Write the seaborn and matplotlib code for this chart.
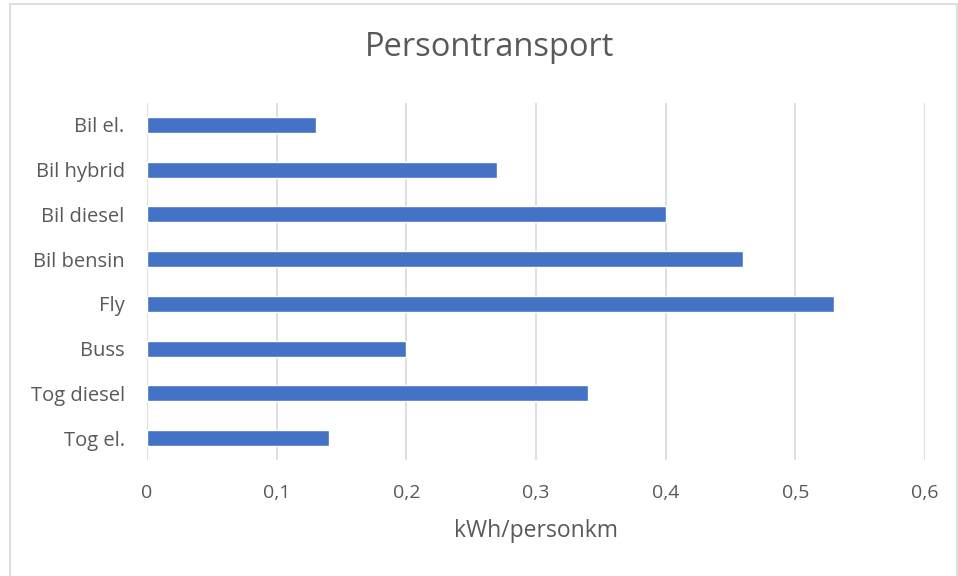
import matplotlib
matplotlib.use("Agg")
import matplotlib.pyplot as plt
import seaborn as sns
import pandas as pd
from matplotlib.patches import Rectangle

# data
categories = ['Bil el.', 'Bil hybrid', 'Bil diesel', 'Bil bensin', 'Fly', 'Buss', 'Tog diesel', 'Tog el.']
values = [0.13, 0.27, 0.40, 0.46, 0.53, 0.20, 0.34, 0.14]
x_ticks = [0, 0.1, 0.2, 0.3, 0.4, 0.5, 0.6]
x_tick_labels = ['0', '0,1', '0,2', '0,3', '0,4', '0,5', '0,6']

df = pd.DataFrame({'kategori': categories, 'verdi': values})

sns.set_style('white')
plt.rcParams['font.family'] = ['Open Sans', 'DejaVu Sans']
text_color = '#595959'

fig = plt.figure(figsize=(9.58, 5.76), dpi=100)
ax = fig.add_axes([0.1534, 0.2007, 0.8122, 0.6212])

sns.barplot(data=df, x='verdi', y='kategori', orient='h', color='#4472C4',
            width=0.36, saturation=1, ax=ax, zorder=3)

ax.set_xlim(0, 0.6)
ax.set_xticks(x_ticks)
ax.set_xticklabels(x_tick_labels, color=text_color, fontsize=14)
ax.tick_params(axis='y', labelsize=14.5, labelcolor=text_color, length=0, pad=16)
ax.tick_params(axis='x', length=0, pad=17)
ax.grid(axis='x', color='#D9D9D9', linewidth=1.2, zorder=0)
for s in ax.spines.values():
    s.set_visible(False)

ax.set_ylabel('')
ax.set_xlabel('kWh/personkm', color=text_color, fontsize=16.5, labelpad=12)
fig.text(0.5115, 0.9167, 'Persontransport', ha='center', va='center',
         fontsize=23.5, color=text_color)

# ramme rundt figuren
fig.patches.append(Rectangle((0.0105, -0.01), 0.988, 1.003, transform=fig.transFigure,
                             fill=False, edgecolor='#D9D9D9', linewidth=1.2))

plt.savefig('out.png', dpi=100)
